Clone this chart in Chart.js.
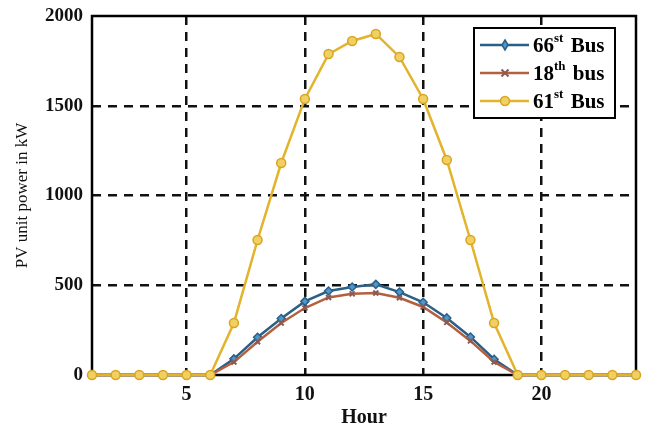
<!DOCTYPE html>
<html>
<head>
<meta charset="utf-8">
<script src="https://cdn.jsdelivr.net/npm/chart.js@4.4.1/dist/chart.umd.min.js"></script>
<style>
  body { margin: 0; background: #fff; }
  #wrap { width: 649px; height: 428px; position: relative; }
</style>
</head>
<body>
<div id="wrap"><canvas id="pv-chart"></canvas></div>
<script>
const hours = [1, 2, 3, 4, 5, 6, 7, 8, 9, 10, 11, 12, 13, 14, 15, 16, 17, 18, 19, 20, 21, 22, 23, 24];
const bus66 = [0, 0, 0, 0, 0, 0, 90, 210, 315, 410, 468, 490, 505, 462, 405, 318, 212, 88, 0, 0, 0, 0, 0, 0];
const bus18 = [0, 0, 0, 0, 0, 0, 72, 185, 290, 373, 432, 452, 457, 430, 379, 293, 190, 72, 0, 0, 0, 0, 0, 0];
const bus61 = [0, 0, 0, 0, 0, 0, 290, 752, 1181, 1538, 1788, 1861, 1900, 1772, 1538, 1198, 752, 290, 0, 0, 0, 0, 0, 0];
const xTicks = [5, 10, 15, 20];
const yTicks = [0, 500, 1000, 1500, 2000];
// legend text split into number, superscript, rest
const legendNums = ['66', '18', '61'];
const legendSups = ['st', 'th', 'st'];
const legendRest = [' Bus', ' bus', ' Bus'];

const serif = "'Liberation Serif', 'DejaVu Serif', serif";
const blue = '#2a5f88';
const orange = '#b4603f';
const yellow = '#e3b32c';

// frame around the plot area + legend box
const framePlugin = {
    id: 'frame',
    beforeDatasetsDraw(chart) {
        const { ctx, chartArea: a } = chart;
        ctx.save();
        ctx.strokeStyle = '#000';
        ctx.lineWidth = 2.5;
        ctx.strokeRect(a.left, a.top, a.right - a.left, a.bottom - a.top);
        ctx.restore();
    },
    afterDraw(chart) {
        const { ctx } = chart;
        const box = { x: 474, y: 28, w: 141, h: 90 };
        ctx.save();
        ctx.fillStyle = '#fff';
        ctx.fillRect(box.x, box.y, box.w, box.h);
        ctx.strokeStyle = '#000';
        ctx.lineWidth = 2;
        ctx.strokeRect(box.x, box.y, box.w, box.h);

        chart.data.datasets.forEach((ds, i) => {
            const y = box.y + 17 + i * 28;
            ctx.strokeStyle = ds.borderColor;
            ctx.lineWidth = 2.5;
            ctx.beginPath();
            ctx.moveTo(box.x + 6, y);
            ctx.lineTo(box.x + 55, y);
            ctx.stroke();
            ctx.fillStyle = ds.pointBackgroundColor;
            ctx.strokeStyle = ds.pointBorderColor;
            ctx.lineWidth = ds.pointBorderWidth;
            ctx.beginPath();
            drawMarker(ctx, ds.pointStyle, box.x + 31, y, ds.pointRadius);

            ctx.fillStyle = '#000';
            ctx.textBaseline = 'middle';
            ctx.textAlign = 'left';
            let tx = box.x + 59;
            ctx.font = 'bold 21px ' + serif;
            ctx.fillText(legendNums[i], tx, y + 2);
            tx += ctx.measureText(legendNums[i]).width;
            ctx.font = 'bold 13px ' + serif;
            ctx.fillText(legendSups[i], tx, y - 6);
            tx += ctx.measureText(legendSups[i]).width + 2;
            ctx.font = 'bold 21px ' + serif;
            ctx.fillText(legendRest[i], tx, y + 2);
        });
        ctx.restore();
    }
};

function drawMarker(ctx, style, x, y, r) {
    if (style === 'circle') {
        ctx.arc(x, y, r, 0, Math.PI * 2);
        ctx.fill();
        ctx.stroke();
    } else if (style === 'rectRot') {
        ctx.moveTo(x, y - r - 1);
        ctx.lineTo(x + r - 1, y);
        ctx.lineTo(x, y + r + 1);
        ctx.lineTo(x - r + 1, y);
        ctx.closePath();
        ctx.fill();
        ctx.stroke();
    } else {
        ctx.moveTo(x - r, y - r);
        ctx.lineTo(x + r, y + r);
        ctx.moveTo(x + r, y - r);
        ctx.lineTo(x - r, y + r);
        ctx.stroke();
    }
}

function gridColor(ctx, ends) {
    return ends.includes(ctx.tick.value) ? 'rgba(0,0,0,0)' : '#111';
}

document.addEventListener('DOMContentLoaded', () => {
    const ctx = document.getElementById('pv-chart').getContext('2d');
    new Chart(ctx, {
        type: 'line',
        data: {
            datasets: [
                {
                    label: '66st Bus',
                    data: hours.map((h, i) => ({ x: h, y: bus66[i] })),
                    borderColor: blue,
                    borderWidth: 2.5,
                    pointStyle: 'rectRot',
                    pointRadius: 4,
                    pointBackgroundColor: '#4d97cc',
                    pointBorderColor: blue,
                    pointBorderWidth: 1.5,
                    order: 3
                },
                {
                    label: '18th bus',
                    data: hours.map((h, i) => ({ x: h, y: bus18[i] })),
                    borderColor: orange,
                    borderWidth: 2.5,
                    pointStyle: 'crossRot',
                    pointRadius: 3.5,
                    pointBackgroundColor: orange,
                    pointBorderColor: '#8a5a55',
                    pointBorderWidth: 2,
                    order: 2
                },
                {
                    label: '61st Bus',
                    data: hours.map((h, i) => ({ x: h, y: bus61[i] })),
                    borderColor: yellow,
                    borderWidth: 2.5,
                    pointStyle: 'circle',
                    pointRadius: 4.5,
                    pointBackgroundColor: '#f0cf63',
                    pointBorderColor: '#d9a51e',
                    pointBorderWidth: 1.5,
                    order: 1
                }
            ]
        },
        options: {
            responsive: true,
            maintainAspectRatio: false,
            animation: false,
            clip: false,
            layout: { padding: { top: 16, right: 13, left: 0, bottom: 0 } },
            plugins: {
                legend: { display: false },
                tooltip: { enabled: false }
            },
            scales: {
                x: {
                    type: 'linear',
                    min: 1,
                    max: 24,
                    afterBuildTicks: (scale) => {
                        scale.ticks = xTicks.map(v => ({ value: v }));
                    },
                    afterFit: (scale) => { scale.height = 53; },
                    grid: {
                        color: (c) => gridColor(c, []),
                        lineWidth: 2.5,
                        drawTicks: false
                    },
                    border: { display: false, dash: [9, 7] },
                    ticks: {
                        padding: 8,
                        color: '#111',
                        callback: (v) => String(v),
                        font: { family: serif, size: 20, weight: 'bold' }
                    },
                    title: {
                        display: true,
                        text: 'Hour',
                        color: '#111',
                        padding: { top: 0, bottom: 0 },
                        font: { family: serif, size: 20, weight: 'bold', lineHeight: 1 }
                    }
                },
                y: {
                    min: 0,
                    max: 2000,
                    afterBuildTicks: (scale) => {
                        scale.ticks = yTicks.map(v => ({ value: v }));
                    },
                    afterFit: (scale) => {
                        scale.width = 92;
                        scale.paddingTop = 0;
                    },
                    grid: {
                        color: (c) => gridColor(c, [0, 2000]),
                        lineWidth: 2.5,
                        drawTicks: false
                    },
                    border: { display: false, dash: [9, 7] },
                    ticks: {
                        padding: 9,
                        color: '#111',
                        callback: (v) => String(v),
                        font: { family: serif, size: 19, weight: 'bold', lineHeight: 1 }
                    },
                    title: {
                        display: true,
                        text: 'PV unit power in kW',
                        color: '#111',
                        padding: { top: 12, bottom: 4 },
                        font: { family: serif, size: 17 }
                    }
                }
            }
        },
        plugins: [framePlugin]
    });
});
</script>
</body>
</html>
